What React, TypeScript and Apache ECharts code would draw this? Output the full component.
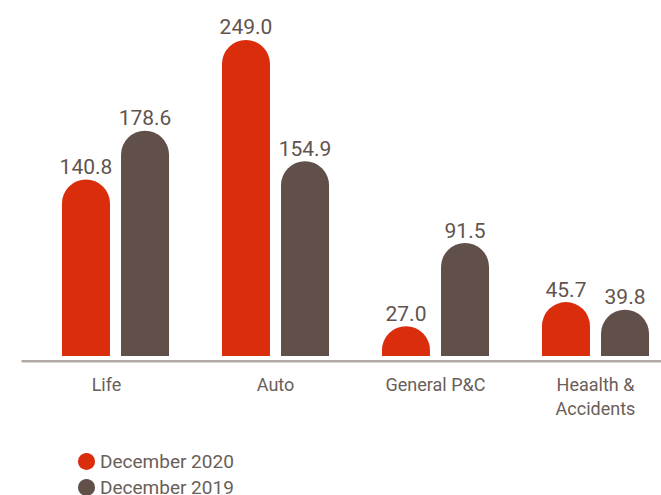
import React, { useEffect, useRef } from "react";
import * as echarts from "echarts";

const categories = ["Life", "Auto", "General P&C", "Heaalth &\nAccidents"];
const seriesNames = ["December 2020", "December 2019"];
const dec2020 = [140.8, 249.0, 27.0, 45.7];
const dec2019 = [178.6, 154.9, 91.5, 39.8];

const RED = "#d92d0b";
const BROWN = "#61504a";
const TEXT = "#6a5e59";
const FONT = "Roboto, 'Noto Sans', sans-serif";

export default function App() {
  const ref = useRef<HTMLDivElement>(null);
  useEffect(() => {
    if (!ref.current) return;
    const chart = echarts.init(ref.current, undefined, { renderer: "svg" });
    const label = {
      show: true,
      position: "top",
      distance: 2,
      fontSize: 21,
      color: "#61534e",
      fontFamily: FONT,
      formatter: (p: any) => Number(p.value).toFixed(1),
    };
    const legendBase = {
      orient: "vertical",
      left: 78,
      icon: "circle",
      itemWidth: 17,
      itemHeight: 17,
      padding: 0,
      textStyle: { fontSize: 19, color: TEXT, fontFamily: FONT },
    };
    chart.setOption({
      animation: false,
      textStyle: { fontFamily: FONT },
      grid: {
        left: 35.5,
        width: 640,
        top: 0,
        bottom: 134,
        outerBoundsMode: "none",
      },
      legend: [
        { ...legendBase, top: 452, data: [seriesNames[0]] },
        { ...legendBase, top: 478, data: [seriesNames[1]] },
      ],
      xAxis: {
        type: "category",
        data: categories.map((c, i) =>
          i === 0 ? { value: c, textStyle: { padding: [0, 18, 0, 0] } } : c
        ),
        axisLine: { show: false },
        axisTick: { show: false },
        axisLabel: {
          fontSize: 18,
          color: TEXT,
          lineHeight: 24,
          margin: 11,
          interval: 0,
          fontFamily: FONT,
        },
      },
      yAxis: {
        type: "value",
        min: 0,
        max: 280,
        show: false,
        splitLine: { show: false },
      },
      series: [
        {
          name: seriesNames[0],
          type: "bar",
          data: dec2020,
          barWidth: 48,
          barGap: "23%",
          itemStyle: { color: RED, borderRadius: [24, 24, 0, 0] },
          label,
        },
        {
          name: seriesNames[1],
          type: "bar",
          data: dec2019,
          barWidth: 48,
          itemStyle: { color: BROWN, borderRadius: [24, 24, 0, 0] },
          label,
        },
      ],
      graphic: [
        {
          type: "rect",
          z: 100,
          shape: { x: 0, y: 356, width: 661, height: 4 },
          style: { fill: "#ffffff" },
        },
        {
          type: "line",
          z: 101,
          shape: { x1: 21.5, y1: 361.3, x2: 661, y2: 361.3 },
          style: { stroke: "#b3aaa5", lineWidth: 2.6 },
        },
      ],
    });
    return () => chart.dispose();
  }, []);
  return (
    <div
      ref={ref}
      style={{ position: "absolute", left: 0, top: 0, width: 661, height: 495 }}
    />
  );
}
